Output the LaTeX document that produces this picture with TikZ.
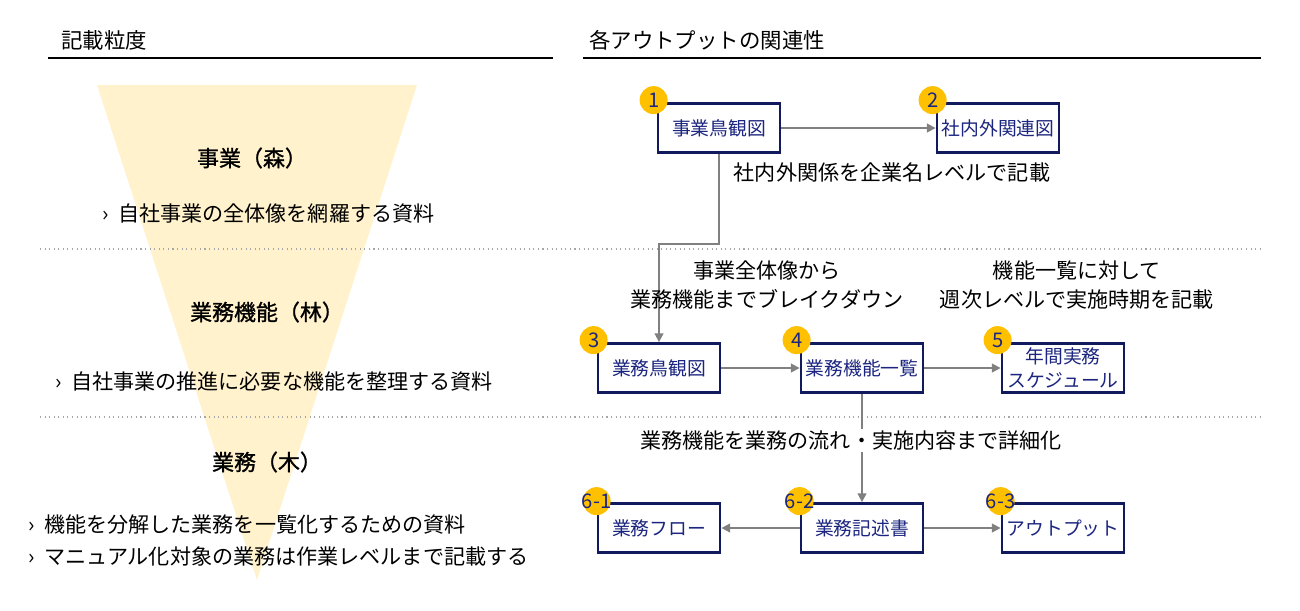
\documentclass[tikz,border=0pt]{standalone}
\usepackage{fontspec}
\setmainfont{Noto Sans CJK JP}
\newfontfamily\medfont{Noto Sans CJK JP}[FakeBold=1.2]
\usetikzlibrary{arrows.meta,positioning}

\begin{document}
\begin{tikzpicture}[x=0.02cm,y=-0.02cm,
        doc/.style={draw=navyline, line width=1.6pt, fill=white, minimum width=2.44cm,
            minimum height=0.98cm, inner sep=1pt, align=center, text=navytext,
            font=\fontsize{10.7}{14}\selectfont},
        badge/.style={circle, fill=gold, minimum size=0.56cm, inner sep=0pt},
        num/.style={text=navytext, inner sep=0pt, font=\fontsize{11.5}{12}\selectfont},
        flow/.style={draw=flowgray, line width=1pt, -{Triangle[length=5pt,width=5pt]}},
        note/.style={align=center, inner sep=1pt, font=\fontsize{12}{16}\selectfont},
        title/.style={font=\medfont\fontsize{12.5}{15}\selectfont},
        bullet/.style={anchor=west, inner sep=0pt, font=\fontsize{12}{15}\selectfont}]

        % Define colors
        \definecolor{navyline}{RGB}{16, 26, 92}
        \definecolor{navytext}{RGB}{28, 38, 128}
        \definecolor{gold}{RGB}{255, 192, 0}
        \definecolor{cream}{RGB}{255, 242, 204}
        \definecolor{flowgray}{RGB}{128, 128, 128}

        \useasboundingbox (0,0) rectangle (1300,610);

        % --- HEADERS ---
        \node[anchor=west, font=\fontsize{12.2}{15}\selectfont] (hleft) at (55,40) {記載粒度};
        \node[anchor=west, font=\fontsize{12.2}{15}\selectfont] (hright) at (583,40) {各アウトプットの関連性};
        \draw[black, line width=0.6pt] (48,58) -- (553,58);
        \draw[black, line width=0.6pt] (583,58) -- (1261,58);

        % --- FUNNEL ---
        \fill[cream] (97,85) -- (417,85) -- (257,580) -- cycle;

        % Separators
        \foreach \y in {249, 417} \draw[gray!70, dotted, line width=0.6pt] (40,\y) -- (1260,\y);

        % --- LEVELS ---
        \node[title] (lv1) at (252,158) {事業（森）};
        \node[title] (lv2) at (267,312) {業務機能（林）};
        \node[title] (lv3) at (267,462) {業務（木）};
        \node[bullet] (bl1) at (102,213) {›\ \ 自社事業の全体像を網羅する資料};
        \node[bullet] (bl2) at (55,381) {›\ \ 自社事業の推進に必要な機能を整理する資料};
        \node[bullet] (bl3) at (28,525) {›\ \ 機能を分解した業務を一覧化するための資料};
        \node[bullet] (bl4) at (28,556) {›\ \ マニュアル化対象の業務は作業レベルまで記載する};

        % --- DOCUMENTS ---
        \node[doc] (d1) at (719,128) {事業鳥観図};
        \node[doc] (d2) at (998,128) {社内外関連図};
        \node[doc] (d3) at (659,368) {業務鳥観図};
        \node[doc] (d4) at (862,368) {業務機能一覧};
        \node[doc] (d5) at (1063,368) {年間実務\\スケジュール};
        \node[doc] (d61) at (659,528) {業務フロー};
        \node[doc] (d62) at (862,528) {業務記述書};
        \node[doc] (d63) at (1063,528) {アウトプット};

        % --- CONNECTORS ---
        \coordinate (k1) at (690,244);
        \draw[flow] (d1) -- (d2);
        \draw[flow] (d1.south) |- (k1) -| (d3.north);
        \draw[flow] (d3) -- (d4);
        \draw[flow] (d4) -- (d5);
        \draw[flow] (d4) -- (d62);
        \draw[flow] (d62) -- (d61);
        \draw[flow] (d62) -- (d63);

        % Notes
        \node[note] (n1) at (892,172) {社内外関係を企業名レベルで記載};
        \node[note] (n2) at (767,285) {事業全体像から\\業務機能までブレイクダウン};
        \node[note] (n3) at (1077,285) {機能一覧に対して\\週次レベルで実施時期を記載};
        \node[note, fill=white] (n4) at (851,440) {業務機能を業務の流れ・実施内容まで詳細化};

        % --- BADGES ---
        \foreach \d/\t in {d1/1, d2/2, d3/3, d4/4, d5/5} {
            \node[badge] (b\d) at ([shift={(-3,-2)}]\d.north west) {};
            \node[num] (t\d) at (b\d) {\t};
        }
        \foreach \d/\t in {d61/6-1, d62/6-2, d63/6-3} {
            \node[badge] (b\d) at ([shift={(0,-1)}]\d.north west) {};
            \node[num] (t\d) at (b\d) {\t};
        }

    \end{tikzpicture}
\end{document}
